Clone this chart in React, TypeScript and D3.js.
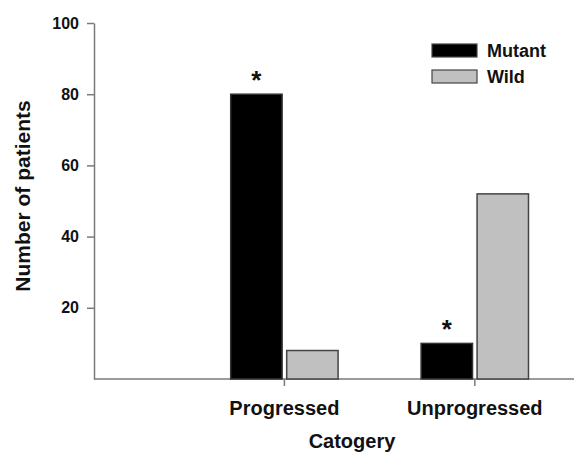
import React, { useEffect, useRef } from 'react';
import * as d3 from 'd3';

const categories = ['Progressed', 'Unprogressed'];
const mutantValues = [80, 10];
const wildValues = [8, 52];
const yTicks = [20, 40, 60, 80, 100];
const seriesNames = ['Mutant', 'Wild'];
const starred = [true, true];

export default function App() {
  const svgRef = useRef<SVGSVGElement>(null);

  useEffect(() => {
    const svg = d3.select(svgRef.current);
    svg.selectAll('*').remove();

    const font = '"Liberation Sans", Arial, sans-serif';
    const axisColor = '#7a7a7a';

    const x = d3.scaleLinear().domain([0, 2.5]).range([94, 570]);
    const y = d3.scaleLinear().domain([0, 100]).range([379, 23]);

    // y axis
    const yAxis = d3.axisLeft(y).tickValues(yTicks).tickSize(7).tickSizeOuter(0).tickPadding(8);
    const gy = svg.append('g').attr('transform', 'translate(94,0)').call(yAxis);
    gy.select('.domain').attr('stroke', axisColor).attr('stroke-width', 1.5);
    gy.selectAll('.tick line').attr('stroke', axisColor).attr('stroke-width', 1.5);
    gy.selectAll('.tick text')
      .attr('fill', '#111')
      .style('font-family', font)
      .style('font-weight', 'bold')
      .style('font-size', '16px');

    // x axis line spans to the right edge
    svg.append('line')
      .attr('x1', 94).attr('x2', 574)
      .attr('y1', y(0)).attr('y2', y(0))
      .attr('stroke', axisColor).attr('stroke-width', 1.5);

    const centers = categories.map((_, i) => i + 1);
    svg.selectAll('.xtick')
      .data(centers)
      .enter()
      .append('line')
      .attr('x1', (d) => x(d)).attr('x2', (d) => x(d))
      .attr('y1', y(0)).attr('y2', y(0) + 7)
      .attr('stroke', axisColor).attr('stroke-width', 1.5);

    svg.selectAll('.xlabel')
      .data(categories)
      .enter()
      .append('text')
      .attr('x', (_, i) => x(i + 1))
      .attr('y', 415)
      .attr('text-anchor', 'middle')
      .style('font-family', font)
      .style('font-weight', 'bold')
      .style('font-size', '20px')
      .attr('fill', '#111')
      .text((d) => d);

    // bars
    const bw = 0.27;
    const gap = 0.012;
    const bars = [
      ...mutantValues.map((v, i) => ({ v, x0: i + 1 - gap - bw, fill: '#000', stroke: '#333' })),
      ...wildValues.map((v, i) => ({ v, x0: i + 1 + gap, fill: '#c0c0c0', stroke: '#444' })),
    ];
    svg.selectAll('.bar')
      .data(bars)
      .enter()
      .append('rect')
      .attr('x', (d) => x(d.x0))
      .attr('width', x(bw) - x(0))
      .attr('y', (d) => y(d.v))
      .attr('height', (d) => y(0) - y(d.v))
      .attr('fill', (d) => d.fill)
      .attr('stroke', (d) => d.stroke)
      .attr('stroke-width', 1.5);

    // significance stars above mutant bars
    svg.selectAll('.star')
      .data(mutantValues.filter((_, i) => starred[i]))
      .enter()
      .append('text')
      .attr('x', (_, i) => x(i + 1 - gap - bw / 2))
      .attr('y', (d) => y(d) - 5)
      .attr('text-anchor', 'middle')
      .style('font-family', font)
      .style('font-weight', 'bold')
      .style('font-size', '26px')
      .attr('fill', '#111')
      .text('*');

    // axis titles
    svg.append('text')
      .attr('transform', 'translate(30,196) rotate(-90)')
      .attr('text-anchor', 'middle')
      .style('font-family', font)
      .style('font-weight', 'bold')
      .style('font-size', '21px')
      .attr('fill', '#111')
      .text('Number of patients');

    svg.append('text')
      .attr('x', 352)
      .attr('y', 448)
      .attr('text-anchor', 'middle')
      .style('font-family', font)
      .style('font-weight', 'bold')
      .style('font-size', '20px')
      .attr('fill', '#111')
      .text('Catogery');

    // legend
    const legendColors = ['#000', '#c0c0c0'];
    const lg = svg.append('g');
    seriesNames.forEach((name, i) => {
      lg.append('rect')
        .attr('x', 432).attr('y', 44 + i * 26)
        .attr('width', 45).attr('height', 13)
        .attr('fill', legendColors[i])
        .attr('stroke', '#444').attr('stroke-width', 1.2);
      lg.append('text')
        .attr('x', 487).attr('y', 57 + i * 26)
        .style('font-family', font)
        .style('font-weight', 'bold')
        .style('font-size', '18px')
        .attr('fill', '#111')
        .text(name);
    });
  }, []);

  return (
    <svg
      ref={svgRef}
      width={574}
      height={454}
      style={{ position: 'absolute', left: 0, top: 0, background: '#fff' }}
    />
  );
}
